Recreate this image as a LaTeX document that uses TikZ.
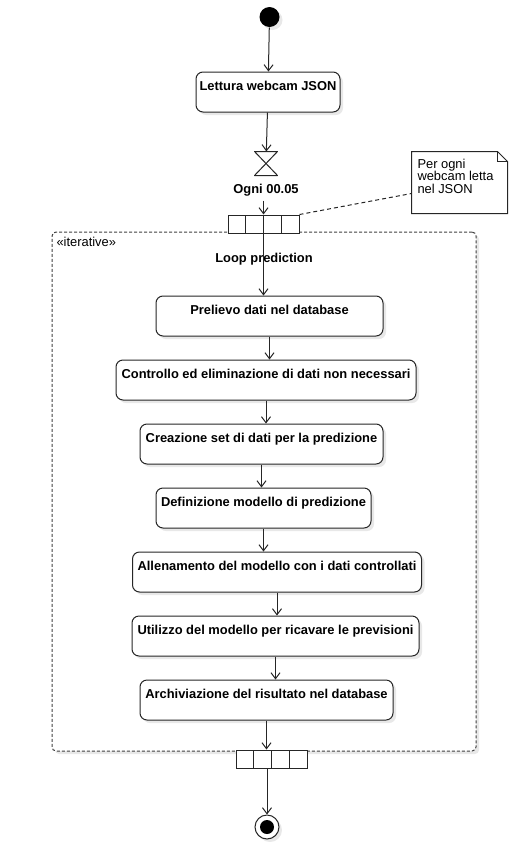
\documentclass[tikz,border=0pt]{standalone}
\usepackage{fontspec}
\setmainfont{Liberation Sans}
\usetikzlibrary{arrows.meta,positioning,shadows}
\newcommand\diagfont{\fontsize{12.9}{15}\selectfont}

\begin{document}
\begin{tikzpicture}[x=1pt,y=-1pt,line width=1pt,
 >={Straight Barb[length=6pt,width=9pt]},
 flow/.style={->,color=black!85},
 shade/.style={drop shadow={shadow xshift=3pt,shadow yshift=-3pt,fill=black!9,opacity=1}},
 action/.style={draw=black!85,fill=white,rounded corners=7pt,shade,font=\diagfont\bfseries,
  minimum height=40pt,inner xsep=0pt,inner ysep=0pt,text height=18pt,text depth=22pt},
 initial/.style={circle,fill=black,shade,minimum size=20pt,inner sep=0pt},
 final/.style={circle,draw=black!85,fill=white,shade,minimum size=24pt,inner sep=0pt,
  path picture={\fill[black] (path picture bounding box.center) circle (7pt);}},
 pin/.style={draw=black!85,fill=white,minimum width=71pt,minimum height=18pt,inner sep=0pt,
  path picture={\foreach \k in {1,2,3}
   \draw[black!85] ([xshift=\k*17.75pt]path picture bounding box.north west)
    -- ([xshift=\k*17.75pt]path picture bounding box.south west);}},
 region/.style={draw=black!75,fill=white,dash pattern=on 3pt off 2pt,rounded corners=4pt,shade,
  minimum width=424pt,minimum height=519pt,inner sep=0pt},
 timebox/.style={minimum width=22pt,minimum height=23pt,inner sep=0pt},
 lbl/.style={font=\diagfont\bfseries,inner sep=0pt},
 plain/.style={font=\diagfont,inner sep=0pt,align=left}]

 \useasboundingbox (0,0) rectangle (526,854);

 \node[initial] (init) at (269.5,17) {};
 \node[action,minimum width=144pt] (act_0) at (268,92) {Lettura webcam JSON};
 \node[timebox] (timer) at (266,163.5) {};
 \node[lbl,below=8pt of timer] (ogni) {Ogni 00.05};

 \node[region] (loop) at (264,491.5) {};
 \node[plain,anchor=base west] (iter) at (56,246.5) {«iterative»};
 \node[lbl,anchor=base] (loop_lbl) at (264,262) {Loop prediction};

 \node[pin] (pin_in) at (263.5,224) {};
 \node[pin] (pin_out) at (271.5,759) {};

 \node[action,minimum width=227pt] (act_1) at (269.5,316) {Prelievo dati nel database};
 \node[action,minimum width=300pt] (act_2) at (266,380) {Controllo ed eliminazione di dati non necessari};
 \node[action,minimum width=243pt] (act_3) at (261.5,444) {Creazione set di dati per la predizione};
 \node[action,minimum width=215pt] (act_4) at (263.5,508) {Definizione modello di predizione};
 \node[action,minimum width=289pt] (act_5) at (277,572) {Allenamento del modello con i dati controllati};
 \node[action,minimum width=287pt] (act_6) at (275.5,636) {Utilizzo del modello per ricavare le previsioni};
 \node[action,minimum width=253pt] (act_7) at (266.5,700) {Archiviazione del risultato nel database};

 \node[final] (fin) at (267,827) {};

 \node[timebox,minimum width=95pt,minimum height=61pt] (note) at (459.5,182.5) {};
 \node[plain,font=\fontsize{12.9}{12.6}\selectfont,anchor=north west] (note_txt) at (417,158.5) {Per ogni\\webcam letta\\nel JSON};

 \draw[black!85,line join=round] (timer.north west) -- (timer.north east)
  -- (timer.south west) -- (timer.south east) -- cycle;
 \draw[black!85] (note.north west) -- ([xshift=-10pt]note.north east)
  -- ([yshift=-10pt]note.north east) -- (note.south east) -- (note.south west) -- cycle;
 \draw[black!85] ([xshift=-10pt]note.north east) -- ([xshift=-10pt,yshift=-10pt]note.north east)
  -- ([yshift=-10pt]note.north east);
 \draw[black!85,dash pattern=on 4pt off 3pt] (pin_in.north east) -- ([yshift=20pt]note.south west);

 \path[flow]
 (init) edge (act_0)
 (act_0) edge (timer)
 ([yshift=-4pt]ogni.south -| pin_in.north) edge (pin_in.north)
 (pin_in.south) edge (pin_in.south |- act_1.north)
 (act_1.south) edge (act_1.south |- act_2.north)
 (act_2.south) edge (act_2.south |- act_3.north)
 (act_3.south) edge (act_3.south |- act_4.north)
 (act_4.south) edge (act_4.south |- act_5.north)
 (act_5.south) edge (act_5.south |- act_6.north)
 (act_6.south) edge (act_6.south |- act_7.north)
 (act_7.south) edge (act_7.south |- pin_out.north)
 (fin.north |- pin_out.south) edge (fin.north)
 ;
\end{tikzpicture}
\end{document}
